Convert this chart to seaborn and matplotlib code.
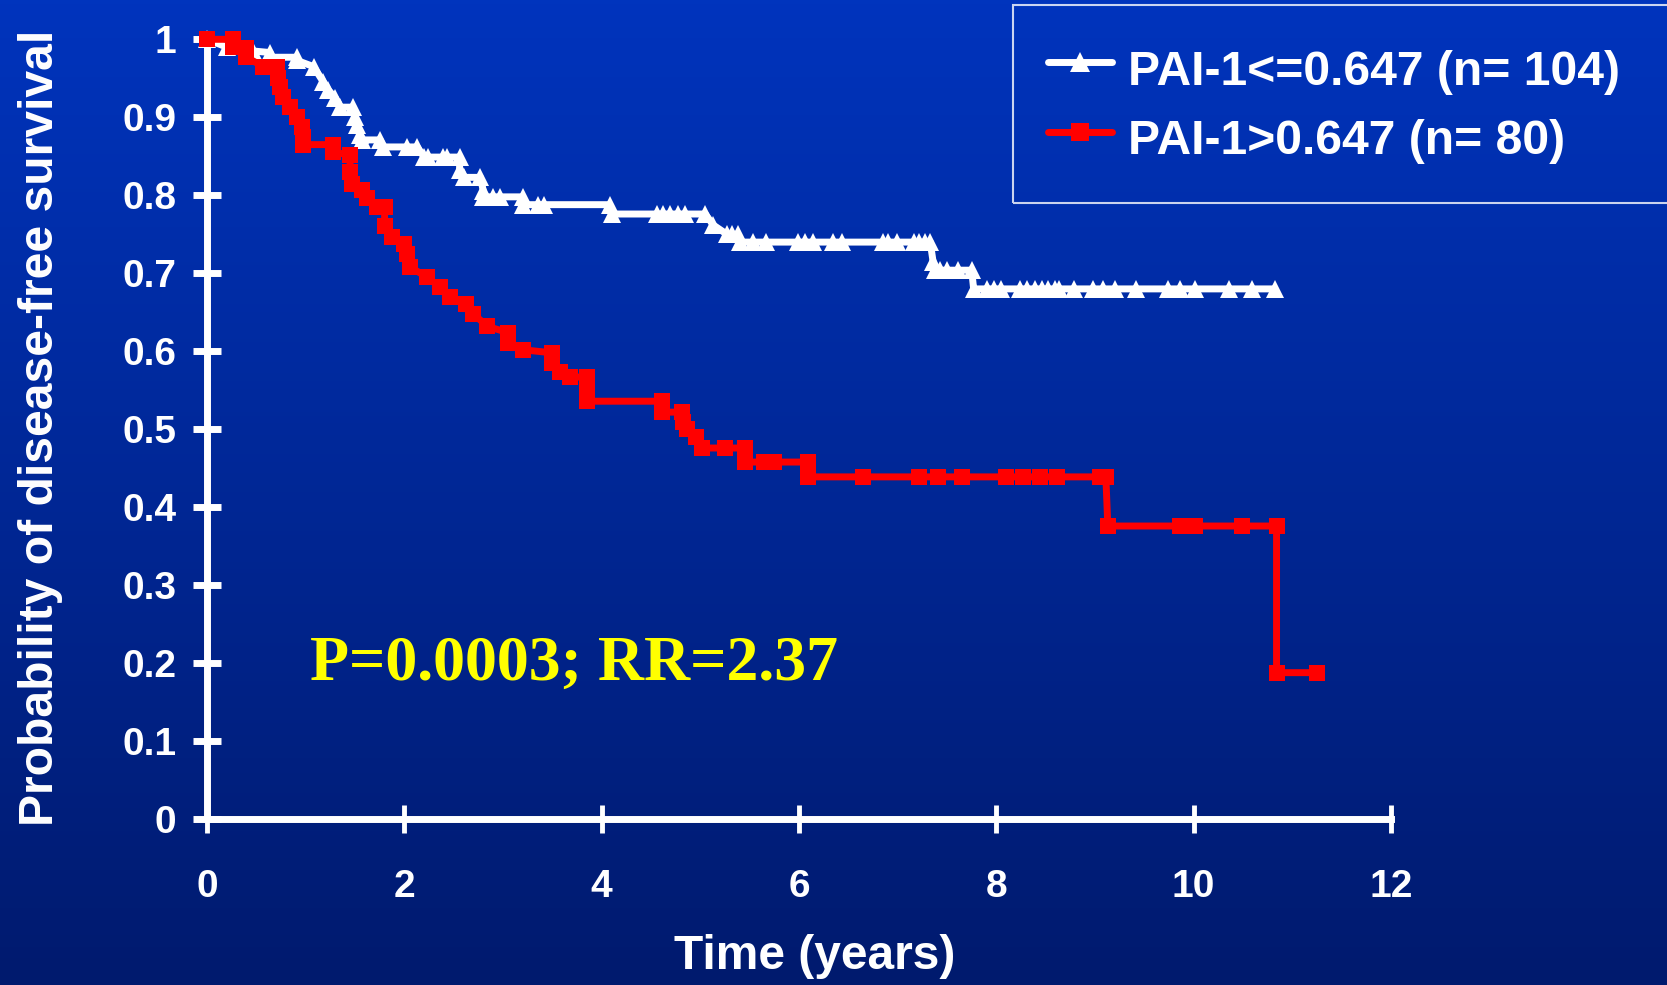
import numpy as np
import pandas as pd
import matplotlib
matplotlib.use("Agg")
import matplotlib.pyplot as plt
import seaborn as sns
from matplotlib.colors import LinearSegmentedColormap

# Kaplan-Meier points (time in years, survival probability)
low_time = [0, 0.2, 0.47, 0.64, 0.64, 0.91, 0.91, 1.08, 1.18, 1.23, 1.3, 1.35, 1.48, 1.5,
            1.52, 1.55, 1.57, 1.75, 1.78, 2.03, 2.13, 2.2, 2.24, 2.39, 2.43, 2.56, 2.56,
            2.6, 2.77, 2.8, 2.8, 2.9, 2.97, 3.2, 3.2, 3.35, 3.42, 4.08, 4.1, 4.56, 4.62,
            4.69, 4.77, 4.84, 5.05, 5.13, 5.27, 5.32, 5.38, 5.4, 5.53, 5.67, 5.99, 6.06,
            6.14, 6.34, 6.44, 6.85, 6.9, 6.99, 7.17, 7.22, 7.28, 7.33, 7.36, 7.38, 7.43,
            7.5, 7.61, 7.75, 7.77, 7.91, 7.98, 8.05, 8.24, 8.31, 8.39, 8.46, 8.52, 8.59,
            8.64, 8.79, 8.98, 9.08, 9.2, 9.42, 9.74, 9.86, 10.01, 10.36, 10.59, 10.82]
low_surv = [1.0, 0.99, 0.985, 0.983, 0.977, 0.977, 0.973, 0.965, 0.945, 0.935, 0.925, 0.913,
            0.913, 0.9, 0.89, 0.877, 0.871, 0.871, 0.862, 0.862, 0.862, 0.849, 0.849, 0.849,
            0.849, 0.849, 0.832, 0.823, 0.823, 0.806, 0.798, 0.798, 0.798, 0.798, 0.788,
            0.788, 0.788, 0.788, 0.776, 0.776, 0.776, 0.776, 0.776, 0.776, 0.776, 0.762,
            0.75, 0.75, 0.75, 0.74, 0.74, 0.74, 0.74, 0.74, 0.74, 0.74, 0.74, 0.74, 0.74,
            0.74, 0.74, 0.74, 0.74, 0.74, 0.714, 0.704, 0.704, 0.704, 0.704, 0.704, 0.68,
            0.68, 0.68, 0.68, 0.68, 0.68, 0.68, 0.68, 0.68, 0.68, 0.68, 0.68, 0.68, 0.68,
            0.68, 0.68, 0.68, 0.68, 0.68, 0.68, 0.68, 0.68]

high_time = [0, 0.26, 0.26, 0.4, 0.4, 0.57, 0.71, 0.72, 0.74, 0.77, 0.84, 0.91, 0.96, 0.97,
             0.97, 1.28, 1.28, 1.45, 1.45, 1.47, 1.57, 1.62, 1.72, 1.8, 1.8, 1.88, 2.0,
             2.03, 2.06, 2.23, 2.36, 2.46, 2.62, 2.7, 2.84, 3.05, 3.05, 3.2, 3.5, 3.5, 3.58,
             3.68, 3.85, 3.85, 3.85, 4.61, 4.61, 4.81, 4.82, 4.86, 4.96, 5.02, 5.25, 5.45,
             5.45, 5.65, 5.75, 6.09, 6.09, 6.65, 7.22, 7.41, 7.65, 8.1, 8.27, 8.44, 8.61,
             9.05, 9.11, 9.13, 9.86, 10.01, 10.49, 10.84, 10.84, 11.25]
high_surv = [1.0, 1.0, 0.99, 0.989, 0.977, 0.965, 0.965, 0.951, 0.939, 0.926, 0.913, 0.9,
             0.887, 0.875, 0.865, 0.865, 0.855, 0.852, 0.83, 0.815, 0.807, 0.796, 0.785,
             0.785, 0.76, 0.747, 0.738, 0.725, 0.708, 0.695, 0.683, 0.67, 0.66, 0.648,
             0.632, 0.624, 0.611, 0.602, 0.598, 0.585, 0.574, 0.567, 0.567, 0.546, 0.536,
             0.536, 0.522, 0.522, 0.509, 0.5, 0.49, 0.476, 0.476, 0.476, 0.458, 0.458,
             0.458, 0.458, 0.439, 0.439, 0.439, 0.439, 0.439, 0.439, 0.439, 0.439, 0.439,
             0.439, 0.439, 0.376, 0.376, 0.376, 0.376, 0.376, 0.188, 0.188]

labels = ["PAI-1<=0.647 (n= 104)", "PAI-1>0.647 (n= 80)"]
x_ticks = [0, 2, 4, 6, 8, 10, 12]
y_ticks = [0, 0.1, 0.2, 0.3, 0.4, 0.5, 0.6, 0.7, 0.8, 0.9, 1.0]
y_ticklabels = ["0", "0.1", "0.2", "0.3", "0.4", "0.5", "0.6", "0.7", "0.8", "0.9", "1"]
stats_text = "P=0.0003; RR=2.37"

df_low = pd.DataFrame({"time": low_time, "surv": low_surv})
df_high = pd.DataFrame({"time": high_time, "surv": high_surv})

sns.set_style("ticks")
plt.rcParams["font.family"] = ["Liberation Sans", "DejaVu Sans"]
plt.rcParams["font.weight"] = "bold"

W, H = 1667, 985
fig = plt.figure(figsize=(W / 100, H / 100), dpi=100)

# slide background gradient
bg = fig.add_axes([0, 0, 1, 1], zorder=-10)
grad_cmap = LinearSegmentedColormap.from_list("slide", ["#0034bd", "#001a6e"])
bg.imshow(np.linspace(0, 1, 256).reshape(-1, 1), aspect="auto", cmap=grad_cmap,
          extent=[0, 1, 0, 1])
bg.set_axis_off()

x0, x1, y0, y1 = 207, 1391, 819.3, 39.3
ax = fig.add_axes([x0 / W, 1 - y0 / H, (x1 - x0) / W, (y0 - y1) / H])
ax.patch.set_alpha(0)

sns.lineplot(data=df_low, x="time", y="surv", ax=ax, sort=False, estimator=None,
             color="white", lw=5, marker="^", ms=13, mec="white", mew=0,
             clip_on=False, label=labels[0], zorder=3)
sns.lineplot(data=df_high, x="time", y="surv", ax=ax, sort=False, estimator=None,
             color="#ff0000", lw=5, marker="s", ms=11.5, mec="#ff0000", mew=0,
             clip_on=False, label=labels[1], zorder=4)

ax.set_xlim(0, 12)
ax.set_ylim(0, 1)
sns.despine(ax=ax)
for side in ["left", "bottom"]:
    ax.spines[side].set_color("white")
    ax.spines[side].set_linewidth(5)
    ax.spines[side].set_zorder(2)

ax.set_xticks(x_ticks)
ax.set_xticklabels([str(t) for t in x_ticks])
ax.set_yticks(y_ticks)
ax.set_yticklabels(y_ticklabels)
ax.tick_params(axis="x", direction="inout", length=20, width=3.5, color="white",
               labelcolor="white", labelsize=28, pad=26)
ax.tick_params(axis="y", direction="inout", length=20, width=5, color="white",
               labelcolor="white", labelsize=28, pad=12)

ax.set_xlabel("Time (years)", fontsize=34.5, fontweight="bold", color="white", va="center")
ax.set_ylabel("Probability of disease-free survival", fontsize=34.6, fontweight="bold",
              color="white", va="center")
ax.xaxis.set_label_coords(0.513, -0.176)
ax.yaxis.set_label_coords(-0.141, 0.502)

ax.text(1.04, 0.179, stats_text, color="#ffff00", fontsize=46, fontweight="bold",
        family=["Liberation Serif", "DejaVu Serif"], ha="left", va="baseline")

leg = ax.legend(loc="upper left", bbox_to_anchor=(1013 / W, 0, 0.5, 1 - 5 / H),
                bbox_transform=fig.transFigure, mode="expand", borderaxespad=0,
                frameon=True, fancybox=False, facecolor="none", edgecolor="white",
                prop={"size": 34.6, "weight": "bold"}, labelcolor="white",
                handlelength=1.35, handleheight=1.5, handletextpad=0.33,
                borderpad=0.72, labelspacing=0.23, markerscale=1.15)
leg.get_frame().set_linewidth(1.5)

fig.savefig("out.png", dpi=100)
